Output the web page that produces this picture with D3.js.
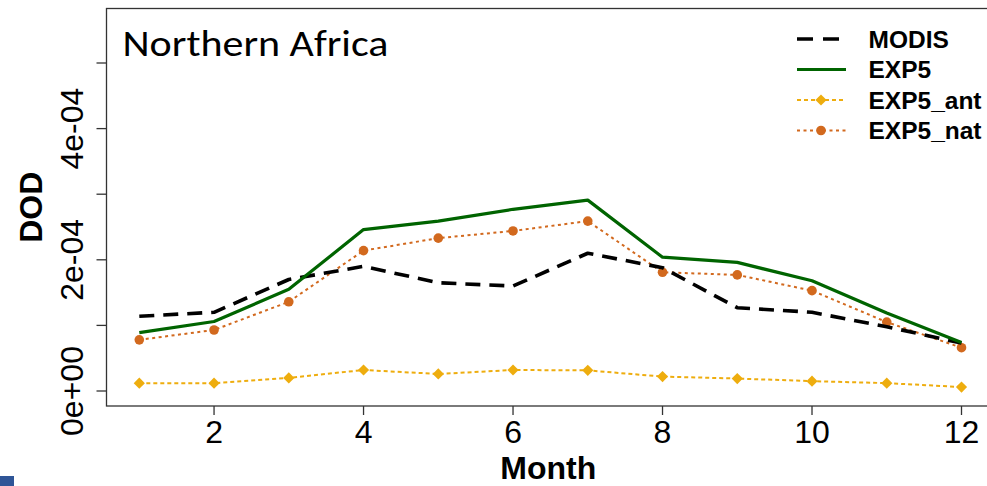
<!DOCTYPE html>
<html><head><meta charset="utf-8">
<script src="https://cdn.jsdelivr.net/npm/d3@7"></script>
<style>body{margin:0;background:#fff}svg{display:block}</style>
</head><body>
<svg id="c" width="987" height="486"></svg>
<script>
const months = [1,2,3,4,5,6,7,8,9,10,11,12];
const modis   = [1.14,1.20,1.70,1.90,1.65,1.60,2.10,1.88,1.27,1.20,0.98,0.73].map(v=>v*1e-4);
const exp5    = [0.89,1.06,1.55,2.46,2.59,2.77,2.91,2.04,1.96,1.68,1.19,0.74].map(v=>v*1e-4);
const exp5Ant = [0.12,0.12,0.20,0.32,0.26,0.32,0.315,0.22,0.19,0.15,0.12,0.06].map(v=>v*1e-4);
const exp5Nat = [0.78,0.93,1.36,2.14,2.33,2.44,2.59,1.81,1.77,1.53,1.05,0.66].map(v=>v*1e-4);
const xTicks = [2,4,6,8,10,12];
const yTicks = [0,1e-4,2e-4,3e-4,4e-4,5e-4];
const yTickLabels = {0:"0e+00", 2:"2e-04", 4:"4e-04"};
const title = "Northern Africa";
const seriesNames = ["MODIS","EXP5","EXP5_ant","EXP5_nat"];

const svg = d3.select("#c");
const box = {l:106.5, t:8.5, r:990, b:406};
const x = d3.scaleLinear().domain([1,12]).range([139.3,961.5]);
const y = d3.scaleLinear().domain([0,5e-4]).range([391,63]);

// box
svg.append("rect").attr("x",box.l).attr("y",box.t).attr("width",box.r-box.l).attr("height",box.b-box.t)
  .attr("fill","none").attr("stroke","#333").attr("stroke-width",1.3);

// y axis ticks
const yAx = svg.append("g");
yTicks.forEach((t,i)=>{
  yAx.append("line").attr("x1",box.l-10).attr("x2",box.l).attr("y1",y(t)).attr("y2",y(t)).attr("stroke","#333").attr("stroke-width",1.3);
  if (yTickLabels[i]) {
    yAx.append("text").attr("transform",`translate(82.5,${y(t)}) rotate(-90)`)
      .attr("text-anchor","middle").attr("font-family","Liberation Sans, Arial, sans-serif")
      .attr("font-size",32).attr("fill","#000").text(yTickLabels[i]);
  }
});
// x axis ticks
const xAx = svg.append("g");
xTicks.forEach(t=>{
  xAx.append("line").attr("x1",x(t)).attr("x2",x(t)).attr("y1",box.b).attr("y2",box.b+9).attr("stroke","#333").attr("stroke-width",1.3);
  xAx.append("text").attr("x",x(t)).attr("y",442.5).attr("text-anchor","middle")
    .attr("font-family","Liberation Sans, Arial, sans-serif").attr("font-size",32).attr("fill","#000").text(t);
});
// axis titles
svg.append("text").attr("x",(box.l+box.r)/2).attr("y",479).attr("text-anchor","middle")
  .attr("font-family","Liberation Sans, Arial, sans-serif").attr("font-weight","bold").attr("font-size",32).text("Month");
svg.append("text").attr("transform",`translate(42.3,${(box.t+box.b)/2}) rotate(-90)`).attr("text-anchor","middle")
  .attr("font-family","Liberation Sans, Arial, sans-serif").attr("font-weight","bold").attr("font-size",32).text("DOD");

// title
svg.append("text").attr("x",122.5).attr("y",56).attr("font-family","Carlito, Lato, sans-serif")
  .attr("font-size",37).attr("textLength",266).attr("lengthAdjust","spacingAndGlyphs").attr("fill","#000").text(title);

const styles = [
  {data:modis, color:"#000", width:3.6, dash:"15,9", marker:null},
  {data:exp5, color:"#006400", width:3.2, dash:null, marker:null},
  {data:exp5Ant, color:"#EEAD0E", width:2, dash:"4,3", marker:"diamond"},
  {data:exp5Nat, color:"#D2691E", width:2, dash:"3,3.5", marker:"circle"}
];
const line = d3.line().x((d,i)=>x(months[i])).y(d=>y(d));
svg.append("clipPath").attr("id","cp").append("rect").attr("x",box.l).attr("y",box.t).attr("width",box.r-box.l).attr("height",box.b-box.t);
const plot = svg.append("g").attr("clip-path","url(#cp)");
function marker(g, type, color, cx, cy){
  if (type==="circle") g.append("circle").attr("cx",cx).attr("cy",cy).attr("r",4.8).attr("fill",color);
  else if (type==="diamond") g.append("path").attr("d","M0,-5.6L5.6,0L0,5.6L-5.6,0Z").attr("transform",`translate(${cx},${cy})`).attr("fill",color);
}
[2,3,0,1].forEach(k=>{
  const s = styles[k];
  plot.append("path").datum(s.data).attr("d",line).attr("fill","none").attr("stroke",s.color)
    .attr("stroke-width",s.width).attr("stroke-dasharray",s.dash).attr("stroke-linejoin","round");
  if (s.marker) s.data.forEach((d,i)=>marker(plot,s.marker,s.color,x(months[i]),y(d)));
});

// legend
const lg = svg.append("g");
const ly = [39,69.5,100,130.5];
seriesNames.forEach((n,i)=>{
  const s = styles[i];
  lg.append("line").attr("x1",797).attr("x2",846).attr("y1",ly[i]).attr("y2",ly[i]).attr("stroke",s.color)
    .attr("stroke-width",s.width).attr("stroke-dasharray",i===0?"16,10":s.dash);
  if (s.marker) marker(lg,s.marker,s.color,821,ly[i]);
  lg.append("text").attr("x",868.5).attr("y",ly[i]+8.5).attr("font-family","Liberation Sans, Arial, sans-serif")
    .attr("font-weight","bold").attr("font-size",24.5).attr("fill","#000").text(n);
});

// small blue mark bottom-left
svg.append("rect").attr("x",0).attr("y",476).attr("width",14).attr("height",10).attr("fill","#2F5597");
</script>
</body></html>
